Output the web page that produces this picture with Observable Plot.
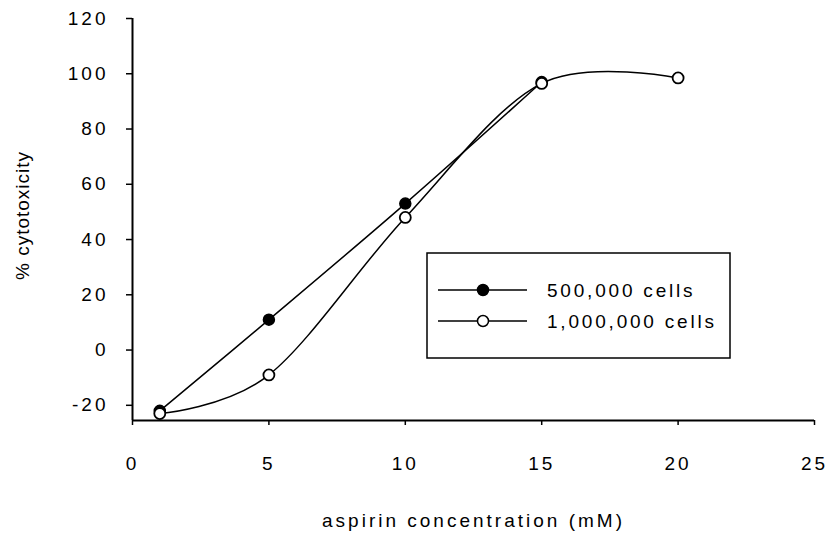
<!DOCTYPE html>
<html>
<head>
<meta charset="utf-8">
<script src="https://cdn.jsdelivr.net/npm/d3@7"></script>
<script src="https://cdn.jsdelivr.net/npm/@observablehq/plot@0.6"></script>
<style>
  html, body { margin: 0; padding: 0; background: #fff; }
  #wrap { position: relative; width: 827px; height: 538px; font-family: "Liberation Sans", Arial, sans-serif; }
  #wrap svg text { letter-spacing: 3px; }
  #legend { position: absolute; left: 0; top: 0; }
</style>
</head>
<body>
<div id="wrap"></div>
<script>
// ---- data ----
const seriesNames = ["500,000 cells", "1,000,000 cells"];
const conc500k = [1, 5, 10, 15];
const cyto500k = [-22, 11, 53, 97];
const conc1m = [1, 5, 10, 15, 20];
const cyto1m = [-23, -9, 48, 96.5, 98.5];
const xTicks = [0, 5, 10, 15, 20, 25];
const yTicks = [-20, 0, 20, 40, 60, 80, 100, 120];
const xTitle = "aspirin concentration (mM)";
const yTitle = "% cytotoxicity";
const xDomain = [0, 25];
const yDomain = [-25.5, 120];

const rows = [
  ...conc500k.map((x, i) => ({ series: seriesNames[0], x, y: cyto500k[i] })),
  ...conc1m.map((x, i) => ({ series: seriesNames[1], x, y: cyto1m[i] }))
];
const filled = rows.filter(d => d.series === seriesNames[0]);
const open = rows.filter(d => d.series === seriesNames[1]);

const chart = Plot.plot({
  width: 827,
  height: 538,
  marginLeft: 132,
  marginRight: 13,
  marginTop: 18,
  marginBottom: 118,
  style: { fontFamily: "Liberation Sans, Arial, sans-serif", fontSize: "19px", background: "#fff", color: "#000", overflow: "visible" },
  x: { domain: xDomain },
  y: { domain: yDomain },
  marks: [
    Plot.axisY({ ticks: yTicks, tickFormat: d => String(d), tickSize: 6, tickPadding: 18, label: null, strokeWidth: 1.5, fontSize: 19 }),
    Plot.axisX({ ticks: xTicks, tickFormat: d => String(d), tickSize: 5, tickPadding: 31, label: null, strokeWidth: 1.5, fontSize: 19 }),
    Plot.ruleX([xDomain[0]], { stroke: "#000", strokeWidth: 2 }),
    Plot.ruleY([yDomain[0]], { stroke: "#000", strokeWidth: 2 }),
    Plot.line(rows, { x: "x", y: "y", z: "series", curve: "cardinal", tension: 0, stroke: "#000", strokeWidth: 1.5 }),
    Plot.dot(filled, { x: "x", y: "y", r: 5.5, fill: "#000", stroke: "#000", strokeWidth: 1.5 }),
    Plot.dot(open, { x: "x", y: "y", r: 5.5, fill: "#fff", stroke: "#000", strokeWidth: 1.8 }),
    Plot.text([xTitle], { frameAnchor: "bottom", textAnchor: "middle", lineAnchor: "middle", dy: 100, fontSize: 19 }),
    Plot.text([yTitle], { frameAnchor: "left", textAnchor: "middle", lineAnchor: "middle", rotate: -90, dx: -110, dy: -4, fontSize: 19, className: "ytitle" })
  ]
});
const wrap = document.getElementById("wrap");
wrap.appendChild(chart);
d3.select(chart).selectAll("g.ytitle text, text.ytitle").style("letter-spacing", "1px");

// ---- legend overlay (inside plot area) ----
const lg = d3.select(wrap).append("svg")
  .attr("id", "legend")
  .attr("width", 827).attr("height", 538)
  .style("pointer-events", "none");
lg.append("rect")
  .attr("x", 427).attr("y", 253).attr("width", 303).attr("height", 105)
  .attr("fill", "#fff").attr("stroke", "#000").attr("stroke-width", 1.5);
seriesNames.forEach((name, i) => {
  const cy = 290 + i * 31;
  lg.append("line").attr("x1", 438).attr("x2", 527).attr("y1", cy).attr("y2", cy)
    .attr("stroke", "#000").attr("stroke-width", 1.5);
  lg.append("circle").attr("cx", 483).attr("cy", cy).attr("r", 5.5)
    .attr("fill", i === 0 ? "#000" : "#fff").attr("stroke", "#000").attr("stroke-width", 1.5);
  lg.append("text").attr("x", 547).attr("y", cy).attr("dy", "0.35em")
    .style("font-family", "Liberation Sans, Arial, sans-serif").style("font-size", "19px")
    .style("letter-spacing", "2.8px").attr("fill", "#000").text(name);
});
</script>
</body>
</html>
